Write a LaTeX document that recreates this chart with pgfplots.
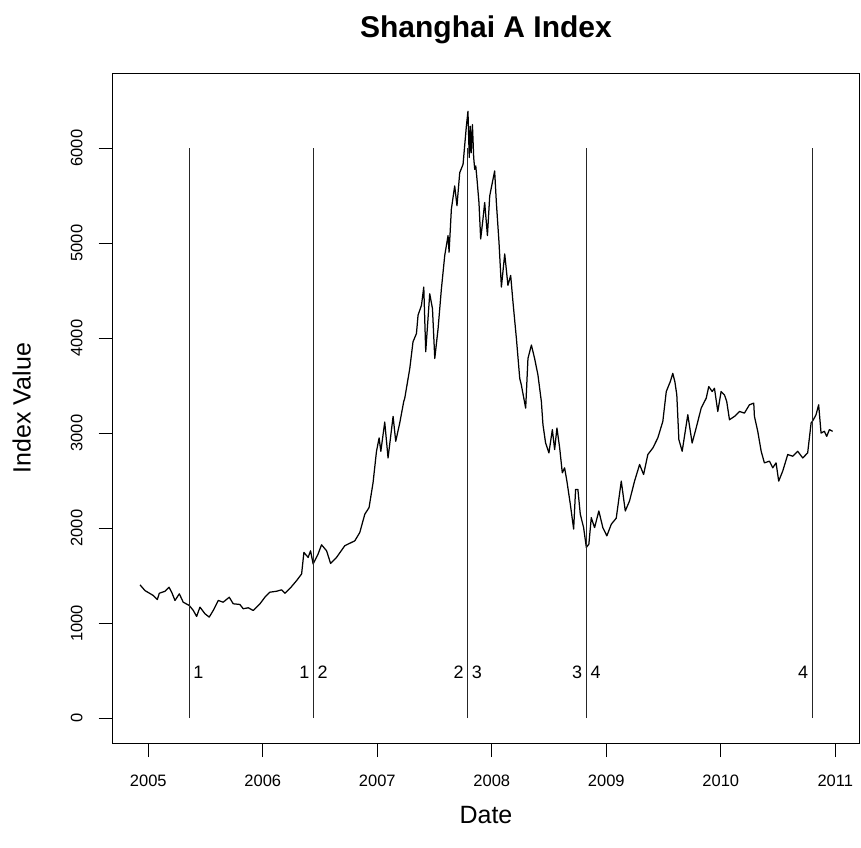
\documentclass[border=0pt]{standalone}
\usepackage{pgfplots}
\pgfplotsset{compat=1.18}
\usepackage{pgfplotstable}
\usepackage{fontspec}
\setmainfont{Liberation Sans}

\pgfplotstableread{
x y
2004.928 1403
2004.971 1343
2005.044 1291
2005.079 1249
2005.096 1315
2005.146 1336
2005.181 1378
2005.204 1326
2005.233 1239
2005.271 1309
2005.305 1221
2005.358 1186
2005.393 1134
2005.422 1071
2005.451 1169
2005.495 1099
2005.532 1064
2005.567 1134
2005.611 1239
2005.654 1221
2005.707 1273
2005.742 1204
2005.800 1197
2005.829 1152
2005.873 1162
2005.916 1134
2005.975 1204
2006.018 1273
2006.062 1326
2006.120 1336
2006.164 1351
2006.193 1315
2006.251 1385
2006.295 1448
2006.339 1518
2006.359 1745
2006.396 1692
2006.417 1762
2006.440 1623
2006.483 1728
2006.513 1825
2006.557 1762
2006.592 1629
2006.644 1692
2006.716 1815
2006.804 1867
2006.847 1954
2006.891 2147
2006.928 2216
2006.963 2478
2006.993 2809
2007.016 2949
2007.031 2809
2007.065 3116
2007.094 2739
2007.138 3176
2007.161 2914
2007.196 3106
2007.231 3333
2007.240 3368
2007.284 3682
2007.312 3961
2007.342 4048
2007.356 4241
2007.386 4346
2007.406 4537
2007.423 3857
2007.458 4467
2007.482 4310
2007.502 3786
2007.531 4100
2007.560 4519
2007.589 4869
2007.618 5079
2007.627 4904
2007.647 5357
2007.676 5602
2007.696 5393
2007.720 5741
2007.749 5828
2007.778 6230
2007.792 6387
2007.803 5900
2007.812 6230
2007.820 5950
2007.831 6247
2007.842 5900
2007.851 5776
2007.860 5812
2007.871 5671
2007.888 5427
2007.903 5043
2007.923 5252
2007.938 5427
2007.962 5079
2007.982 5497
2008.025 5759
2008.040 5427
2008.063 5008
2008.084 4537
2008.113 4886
2008.141 4555
2008.165 4660
2008.185 4380
2008.215 3996
2008.244 3577
2008.258 3508
2008.296 3263
2008.316 3786
2008.346 3927
2008.374 3786
2008.403 3613
2008.433 3333
2008.447 3089
2008.470 2896
2008.499 2792
2008.529 3037
2008.549 2827
2008.569 3054
2008.593 2844
2008.616 2582
2008.636 2635
2008.656 2495
2008.686 2251
2008.715 1990
2008.732 2408
2008.752 2408
2008.773 2147
2008.802 2006
2008.826 1797
2008.848 1832
2008.869 2111
2008.898 2006
2008.935 2181
2008.970 2006
2009.005 1919
2009.044 2042
2009.087 2105
2009.131 2495
2009.166 2181
2009.203 2286
2009.247 2495
2009.291 2670
2009.326 2565
2009.363 2775
2009.407 2844
2009.450 2949
2009.494 3124
2009.524 3438
2009.559 3542
2009.581 3629
2009.599 3542
2009.616 3403
2009.634 2932
2009.663 2809
2009.712 3194
2009.750 2896
2009.785 3054
2009.829 3263
2009.873 3368
2009.895 3490
2009.925 3438
2009.945 3472
2009.974 3228
2010.003 3438
2010.032 3403
2010.052 3333
2010.076 3141
2010.120 3176
2010.163 3228
2010.207 3211
2010.250 3298
2010.288 3316
2010.294 3176
2010.323 3019
2010.353 2809
2010.381 2687
2010.425 2705
2010.454 2635
2010.483 2687
2010.506 2495
2010.541 2600
2010.585 2775
2010.628 2757
2010.672 2809
2010.716 2739
2010.759 2792
2010.789 3106
2010.809 3141
2010.832 3194
2010.855 3298
2010.876 3001
2010.905 3019
2010.925 2966
2010.949 3037
2010.977 3019
}\idx

\begin{document}
\begin{tikzpicture}
\path[use as bounding box] (-112.7pt,-104pt) rectangle (748.3pt,743pt);
\begin{axis}[
  at={(0pt,0pt)}, anchor=south west,
  scale only axis, width=746.6pt, height=670pt,
  xmin=2004.689, xmax=2011.21, ymin=-261, ymax=6790,
  axis line style={line width=0.9pt},
  tick align=outside, major tick length=14pt,
  tick style={black, line width=0.9pt},
  xtick={2005,2006,2007,2008,2009,2010,2011},
  ytick={0,1000,2000,3000,4000,5000,6000},
  xtick pos=bottom, ytick pos=left,
  /pgf/number format/assume math mode=true,
  /pgf/number format/1000 sep={},
  ticklabel style={font=\fontsize{16.5}{19}\selectfont},
  xticklabel style={anchor=north, inner sep=0pt},
  yticklabel style={rotate=90, anchor=south, inner sep=0pt},
  xticklabel shift=18pt,
  yticklabel shift=16pt,
  title={Shanghai A Index},
  title style={font=\bfseries\fontsize{30}{36}\selectfont, at={(axis description cs:0.5,1.0433)}, anchor=base},
  xlabel={Date},
  xlabel style={font=\fontsize{25}{30}\selectfont, at={(axis description cs:0.5,-0.1075)}, anchor=center},
  ylabel={Index Value},
  ylabel style={font=\fontsize{25}{30}\selectfont, at={(axis description cs:-0.1218,0.5)}, anchor=center},
]
\addplot[black, line width=1.25pt, line join=round] table[x=x, y=y] {\idx};
\addplot[black!85, line width=0.9pt] coordinates {(2005.358,0) (2005.358,6000)};
\addplot[black!85, line width=0.9pt] coordinates {(2006.443,0) (2006.443,6000)};
\addplot[black!85, line width=0.9pt] coordinates {(2007.790,0) (2007.790,6000)};
\addplot[black!85, line width=0.9pt] coordinates {(2008.826,0) (2008.826,6000)};
\addplot[black!85, line width=0.9pt] coordinates {(2010.800,0) (2010.800,6000)};
\begin{scope}[every node/.style={font=\fontsize{18}{21}\selectfont, inner sep=0pt}]
\node[anchor=west, xshift=4pt] at (axis cs:2005.358,487) {1};
\node[anchor=east, xshift=-4pt] at (axis cs:2006.443,487) {1};
\node[anchor=west, xshift=4pt] at (axis cs:2006.443,487) {2};
\node[anchor=east, xshift=-4pt] at (axis cs:2007.790,487) {2};
\node[anchor=west, xshift=4pt] at (axis cs:2007.790,487) {3};
\node[anchor=east, xshift=-4pt] at (axis cs:2008.826,487) {3};
\node[anchor=west, xshift=4pt] at (axis cs:2008.826,487) {4};
\node[anchor=east, xshift=-4pt] at (axis cs:2010.800,487) {4};
\end{scope}
\end{axis}
\end{tikzpicture}
\end{document}
